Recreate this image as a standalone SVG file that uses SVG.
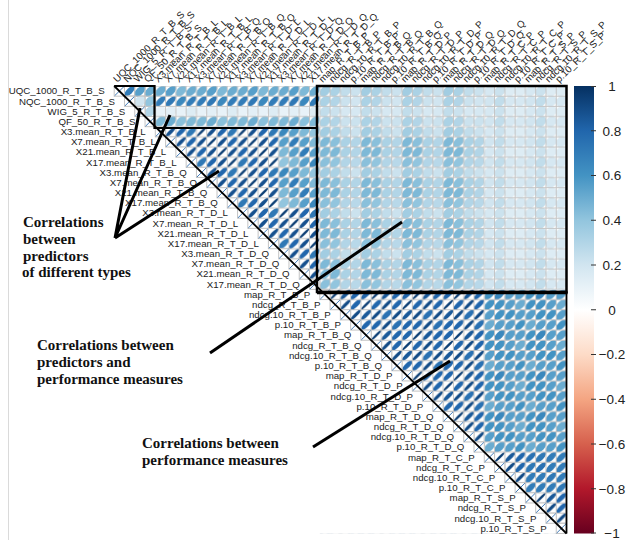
<svg xmlns="http://www.w3.org/2000/svg" xmlns:xlink="http://www.w3.org/1999/xlink" width="629" height="540" viewBox="0 0 629 540">
<style>
.rl{font-family:"Liberation Sans",Arial,sans-serif;font-size:9.7px;fill:#222;text-anchor:end}
.cl{font-family:"Liberation Sans",Arial,sans-serif;font-size:9.7px;fill:#222}
.ann{font-family:"Liberation Serif","Times New Roman",serif;font-size:15px;font-weight:bold;fill:#111}
.cb{font-family:"Liberation Sans",Arial,sans-serif;font-size:13.5px;fill:#222;text-anchor:middle}
.cell{fill:#fff;stroke:#C4C4C4;stroke-width:1}
.blk{fill:none;stroke:#000;stroke-linecap:butt}
</style>
<defs>
<ellipse id="e10" rx="5.65" ry="5.11" fill="#E8F2F8" transform="rotate(-45)"/>
<ellipse id="e12" rx="5.70" ry="5.06" fill="#E3EFF6" transform="rotate(-45)"/>
<ellipse id="e15" rx="5.78" ry="4.97" fill="#DDECF4" transform="rotate(-45)"/>
<ellipse id="e18" rx="5.85" ry="4.88" fill="#D6E8F2" transform="rotate(-45)"/>
<ellipse id="e20" rx="5.90" ry="4.82" fill="#D1E5F0" transform="rotate(-45)"/>
<ellipse id="e22" rx="5.95" ry="4.76" fill="#CBE2EE" transform="rotate(-45)"/>
<ellipse id="e25" rx="6.02" ry="4.67" fill="#C1DDEB" transform="rotate(-45)"/>
<ellipse id="e28" rx="6.10" ry="4.57" fill="#B8D8E9" transform="rotate(-45)"/>
<ellipse id="e30" rx="6.14" ry="4.51" fill="#B2D5E7" transform="rotate(-45)"/>
<ellipse id="e32" rx="6.19" ry="4.44" fill="#ABD2E5" transform="rotate(-45)"/>
<ellipse id="e35" rx="6.26" ry="4.34" fill="#A2CDE2" transform="rotate(-45)"/>
<ellipse id="e38" rx="6.33" ry="4.24" fill="#98C8E0" transform="rotate(-45)"/>
<ellipse id="e40" rx="6.38" ry="4.17" fill="#92C5DE" transform="rotate(-45)"/>
<ellipse id="e42" rx="6.42" ry="4.10" fill="#8AC0DB" transform="rotate(-45)"/>
<ellipse id="e45" rx="6.49" ry="4.00" fill="#7EB9D7" transform="rotate(-45)"/>
<ellipse id="e50" rx="6.60" ry="3.81" fill="#6BACD0" transform="rotate(-45)"/>
<ellipse id="e55" rx="6.71" ry="3.61" fill="#579FCA" transform="rotate(-45)"/>
<ellipse id="e60" rx="6.82" ry="3.41" fill="#4393C3" transform="rotate(-45)"/>
<ellipse id="e65" rx="6.92" ry="3.19" fill="#3B88BD" transform="rotate(-45)"/>
<ellipse id="e70" rx="7.03" ry="2.95" fill="#327CB8" transform="rotate(-45)"/>
<ellipse id="e72" rx="7.07" ry="2.85" fill="#2F78B5" transform="rotate(-45)"/>
<ellipse id="e75" rx="7.13" ry="2.69" fill="#2A71B2" transform="rotate(-45)"/>
<ellipse id="e80" rx="7.23" ry="2.41" fill="#2166AC" transform="rotate(-45)"/>
<ellipse id="e85" rx="7.33" ry="2.09" fill="#1A5999" transform="rotate(-45)"/>
<ellipse id="e88" rx="7.39" ry="1.87" fill="#16508E" transform="rotate(-45)"/>
<ellipse id="e90" rx="7.43" ry="1.70" fill="#134B86" transform="rotate(-45)"/>
<ellipse id="e95" rx="7.52" ry="1.20" fill="#0C3E74" transform="rotate(-45)"/>
<rect id="bg" width="41.12" height="40.68" fill="#fff"/>
<path id="g4" d="M0 0V40.68M10.28 0V40.68M20.56 0V40.68M30.84 0V40.68M41.12 0V40.68M0 0H41.12M0 10.17H41.12M0 20.34H41.12M0 30.51H41.12M0 40.68H41.12" fill="none" stroke="#C4C4C4" stroke-width="1"/>
<g id="dc"><rect class="cell" width="10.28" height="10.17"/><path d="M0.5 9.7L9.8 0.5" stroke="#2B6CB0" stroke-width="0.9"/></g>
<linearGradient id="cbg" x1="0" y1="0" x2="0" y2="1">
<stop offset="0" stop-color="#053061"/><stop offset="0.1" stop-color="#2166AC"/><stop offset="0.2" stop-color="#4393C3"/><stop offset="0.3" stop-color="#92C5DE"/><stop offset="0.4" stop-color="#D1E5F0"/><stop offset="0.5" stop-color="#FFFFFF"/><stop offset="0.6" stop-color="#FDDBC7"/><stop offset="0.7" stop-color="#F4A582"/><stop offset="0.8" stop-color="#D6604D"/><stop offset="0.9" stop-color="#B2182B"/><stop offset="1" stop-color="#67001F"/>
</linearGradient>
<pattern id="pB" patternUnits="userSpaceOnUse" x="114.2" y="86" width="41.12" height="40.68">
<use href="#bg"/>
<use href="#e50" x="5.14" y="5.085"/><use href="#e55" x="15.42" y="5.085"/><use href="#e45" x="25.7" y="5.085"/><use href="#e50" x="35.98" y="5.085"/>
<use href="#e70" x="5.14" y="15.255"/><use href="#e72" x="15.42" y="15.255"/><use href="#e65" x="25.7" y="15.255"/><use href="#e70" x="35.98" y="15.255"/>
<use href="#e10" x="5.14" y="25.425"/><use href="#e12" x="15.42" y="25.425"/><use href="#e10" x="25.7" y="25.425"/><use href="#e15" x="35.98" y="25.425"/>
<use href="#e45" x="5.14" y="35.595"/><use href="#e50" x="15.42" y="35.595"/><use href="#e42" x="25.7" y="35.595"/><use href="#e45" x="35.98" y="35.595"/>
<use href="#g4"/>
</pattern>
<pattern id="pC" patternUnits="userSpaceOnUse" x="114.2" y="86" width="41.12" height="40.68">
<use href="#bg"/>
<use href="#e35" x="5.14" y="5.085"/><use href="#e32" x="15.42" y="5.085"/><use href="#e25" x="25.7" y="5.085"/><use href="#e22" x="35.98" y="5.085"/>
<use href="#e32" x="5.14" y="15.255"/><use href="#e30" x="15.42" y="15.255"/><use href="#e22" x="25.7" y="15.255"/><use href="#e20" x="35.98" y="15.255"/>
<use href="#e25" x="5.14" y="25.425"/><use href="#e22" x="15.42" y="25.425"/><use href="#e18" x="25.7" y="25.425"/><use href="#e18" x="35.98" y="25.425"/>
<use href="#e32" x="5.14" y="35.595"/><use href="#e30" x="15.42" y="35.595"/><use href="#e22" x="25.7" y="35.595"/><use href="#e22" x="35.98" y="35.595"/>
<use href="#g4"/>
</pattern>
<pattern id="pF" patternUnits="userSpaceOnUse" x="114.2" y="86" width="41.12" height="40.68">
<use href="#bg"/>
<use href="#e18" x="5.14" y="5.085"/><use href="#e22" x="15.42" y="5.085"/><use href="#e15" x="25.7" y="5.085"/><use href="#e15" x="35.98" y="5.085"/>
<use href="#e20" x="5.14" y="15.255"/><use href="#e25" x="15.42" y="15.255"/><use href="#e18" x="25.7" y="15.255"/><use href="#e18" x="35.98" y="15.255"/>
<use href="#e18" x="5.14" y="25.425"/><use href="#e22" x="15.42" y="25.425"/><use href="#e15" x="25.7" y="25.425"/><use href="#e15" x="35.98" y="25.425"/>
<use href="#e20" x="5.14" y="35.595"/><use href="#e25" x="15.42" y="35.595"/><use href="#e18" x="25.7" y="35.595"/><use href="#e18" x="35.98" y="35.595"/>
<use href="#g4"/>
</pattern>
<pattern id="pD" patternUnits="userSpaceOnUse" x="114.2" y="86" width="41.12" height="40.68">
<use href="#bg"/>
<use href="#e95" x="5.14" y="5.085"/><use href="#e88" x="15.42" y="5.085"/><use href="#e80" x="25.7" y="5.085"/><use href="#e72" x="35.98" y="5.085"/>
<use href="#e88" x="5.14" y="15.255"/><use href="#e95" x="15.42" y="15.255"/><use href="#e88" x="25.7" y="15.255"/><use href="#e80" x="35.98" y="15.255"/>
<use href="#e80" x="5.14" y="25.425"/><use href="#e88" x="15.42" y="25.425"/><use href="#e95" x="25.7" y="25.425"/><use href="#e88" x="35.98" y="25.425"/>
<use href="#e72" x="5.14" y="35.595"/><use href="#e80" x="15.42" y="35.595"/><use href="#e88" x="25.7" y="35.595"/><use href="#e95" x="35.98" y="35.595"/>
<use href="#g4"/>
</pattern>
<pattern id="pD2" patternUnits="userSpaceOnUse" x="114.2" y="86" width="41.12" height="40.68">
<use href="#bg"/>
<use href="#e65" x="5.14" y="5.085"/><use href="#e55" x="15.42" y="5.085"/><use href="#e45" x="25.7" y="5.085"/><use href="#e40" x="35.98" y="5.085"/>
<use href="#e55" x="5.14" y="15.255"/><use href="#e70" x="15.42" y="15.255"/><use href="#e55" x="25.7" y="15.255"/><use href="#e45" x="35.98" y="15.255"/>
<use href="#e45" x="5.14" y="25.425"/><use href="#e55" x="15.42" y="25.425"/><use href="#e70" x="25.7" y="25.425"/><use href="#e55" x="35.98" y="25.425"/>
<use href="#e40" x="5.14" y="35.595"/><use href="#e45" x="15.42" y="35.595"/><use href="#e55" x="25.7" y="35.595"/><use href="#e65" x="35.98" y="35.595"/>
<use href="#g4"/>
</pattern>
<pattern id="pE" patternUnits="userSpaceOnUse" x="114.2" y="86" width="41.12" height="40.68">
<use href="#bg"/>
<use href="#e35" x="5.14" y="5.085"/><use href="#e32" x="15.42" y="5.085"/><use href="#e25" x="25.7" y="5.085"/><use href="#e22" x="35.98" y="5.085"/>
<use href="#e45" x="5.14" y="15.255"/><use href="#e42" x="15.42" y="15.255"/><use href="#e32" x="25.7" y="15.255"/><use href="#e30" x="35.98" y="15.255"/>
<use href="#e45" x="5.14" y="25.425"/><use href="#e45" x="15.42" y="25.425"/><use href="#e32" x="25.7" y="25.425"/><use href="#e30" x="35.98" y="25.425"/>
<use href="#e42" x="5.14" y="35.595"/><use href="#e40" x="15.42" y="35.595"/><use href="#e30" x="25.7" y="35.595"/><use href="#e28" x="35.98" y="35.595"/>
<use href="#g4"/>
</pattern>
<pattern id="pG" patternUnits="userSpaceOnUse" x="114.2" y="86" width="41.12" height="40.68">
<use href="#bg"/>
<use href="#e80" x="5.14" y="5.085"/><use href="#e95" x="15.42" y="5.085"/><use href="#e85" x="25.7" y="5.085"/><use href="#e80" x="35.98" y="5.085"/>
<use href="#e95" x="5.14" y="15.255"/><use href="#e80" x="15.42" y="15.255"/><use href="#e90" x="25.7" y="15.255"/><use href="#e80" x="35.98" y="15.255"/>
<use href="#e85" x="5.14" y="25.425"/><use href="#e90" x="15.42" y="25.425"/><use href="#e75" x="25.7" y="25.425"/><use href="#e90" x="35.98" y="25.425"/>
<use href="#e80" x="5.14" y="35.595"/><use href="#e80" x="15.42" y="35.595"/><use href="#e90" x="25.7" y="35.595"/><use href="#e75" x="35.98" y="35.595"/>
<use href="#g4"/>
</pattern>
<pattern id="pH" patternUnits="userSpaceOnUse" x="114.2" y="86" width="41.12" height="40.68">
<use href="#bg"/>
<use href="#e60" x="5.14" y="5.085"/><use href="#e65" x="15.42" y="5.085"/><use href="#e55" x="25.7" y="5.085"/><use href="#e55" x="35.98" y="5.085"/>
<use href="#e60" x="5.14" y="15.255"/><use href="#e60" x="15.42" y="15.255"/><use href="#e55" x="25.7" y="15.255"/><use href="#e50" x="35.98" y="15.255"/>
<use href="#e55" x="5.14" y="25.425"/><use href="#e60" x="15.42" y="25.425"/><use href="#e60" x="25.7" y="25.425"/><use href="#e55" x="35.98" y="25.425"/>
<use href="#e50" x="5.14" y="35.595"/><use href="#e55" x="15.42" y="35.595"/><use href="#e55" x="25.7" y="35.595"/><use href="#e60" x="35.98" y="35.595"/>
<use href="#g4"/>
</pattern>
<pattern id="pJ" patternUnits="userSpaceOnUse" x="114.2" y="86" width="41.12" height="40.68">
<use href="#bg"/>
<use href="#e75" x="5.14" y="5.085"/><use href="#e72" x="15.42" y="5.085"/><use href="#e70" x="25.7" y="5.085"/><use href="#e70" x="35.98" y="5.085"/>
<use href="#e72" x="5.14" y="15.255"/><use href="#e75" x="15.42" y="15.255"/><use href="#e70" x="25.7" y="15.255"/><use href="#e70" x="35.98" y="15.255"/>
<use href="#e70" x="5.14" y="25.425"/><use href="#e70" x="15.42" y="25.425"/><use href="#e72" x="25.7" y="25.425"/><use href="#e70" x="35.98" y="25.425"/>
<use href="#e70" x="5.14" y="35.595"/><use href="#e70" x="15.42" y="35.595"/><use href="#e70" x="25.7" y="35.595"/><use href="#e72" x="35.98" y="35.595"/>
<use href="#g4"/>
</pattern>
</defs>
<rect width="629" height="540" fill="#fff"/>
<path d="M8.5 0V540" stroke="#DADADA" stroke-width="1"/>

<g id="matrix-cells">
<rect x="155.32" y="86" width="164.48" height="40.68" fill="url(#pB)"/>
<rect x="319.8" y="86" width="164.48" height="40.68" fill="url(#pC)"/>
<rect x="484.28" y="86" width="82.24" height="203.4" fill="url(#pF)"/>
<rect x="155.32" y="126.68" width="164.48" height="162.72" fill="url(#pD)"/>
<rect x="278.68" y="126.68" width="41.12" height="81.36" fill="url(#pD2)"/>
<rect x="319.8" y="126.68" width="164.48" height="162.72" fill="url(#pE)"/>
<rect x="319.8" y="289.4" width="164.48" height="244.08" fill="url(#pG)"/>
<rect x="484.28" y="289.4" width="82.24" height="162.72" fill="url(#pH)"/>
<rect x="484.28" y="452.12" width="82.24" height="81.36" fill="url(#pG)"/>
<rect x="525.4" y="452.12" width="41.12" height="40.68" fill="url(#pJ)"/>
<g id="s-block">
<rect class="cell" x="124.48" y="86" width="10.28" height="10.17"/>
<rect class="cell" x="134.76" y="86" width="10.28" height="10.17"/>
<rect class="cell" x="145.04" y="86" width="10.28" height="10.17"/>
<rect class="cell" x="134.76" y="96.17" width="10.28" height="10.17"/>
<rect class="cell" x="145.04" y="96.17" width="10.28" height="10.17"/>
<rect class="cell" x="145.04" y="106.34" width="10.28" height="10.17"/>
<use href="#e70" x="129.62" y="91.085"/>
<use href="#e55" x="139.9" y="91.085"/>
<use href="#e50" x="150.18" y="91.085"/>
<use href="#e20" x="139.9" y="101.255"/>
<use href="#e40" x="150.18" y="101.255"/>
<use href="#e30" x="150.18" y="111.425"/>
<path d="M124.48 86V116.51M134.76 86V116.51M145.04 86V116.51M155.32 86V116.51M124.48 86H155.32M124.48 96.17H155.32M134.76 106.34H155.32M145.04 116.51H155.32" fill="none" stroke="#C4C4C4" stroke-width="1"/>
</g>
<polygon points="114.2,86 566.52,533.48 114.2,533.48" fill="#fff"/>
</g>

<g id="diagonal">
<use href="#dc" x="114.2" y="86"/><use href="#dc" x="124.48" y="96.17"/><use href="#dc" x="134.76" y="106.34"/><use href="#dc" x="145.04" y="116.51"/>
<use href="#dc" x="155.32" y="126.68"/><use href="#dc" x="165.6" y="136.85"/><use href="#dc" x="175.88" y="147.02"/><use href="#dc" x="186.16" y="157.19"/>
<use href="#dc" x="196.44" y="167.36"/><use href="#dc" x="206.72" y="177.53"/><use href="#dc" x="217" y="187.7"/><use href="#dc" x="227.28" y="197.87"/>
<use href="#dc" x="237.56" y="208.04"/><use href="#dc" x="247.84" y="218.21"/><use href="#dc" x="258.12" y="228.38"/><use href="#dc" x="268.4" y="238.55"/>
<use href="#dc" x="278.68" y="248.72"/><use href="#dc" x="288.96" y="258.89"/><use href="#dc" x="299.24" y="269.06"/><use href="#dc" x="309.52" y="279.23"/>
<use href="#dc" x="319.8" y="289.4"/><use href="#dc" x="330.08" y="299.57"/><use href="#dc" x="340.36" y="309.74"/><use href="#dc" x="350.64" y="319.91"/>
<use href="#dc" x="360.92" y="330.08"/><use href="#dc" x="371.2" y="340.25"/><use href="#dc" x="381.48" y="350.42"/><use href="#dc" x="391.76" y="360.59"/>
<use href="#dc" x="402.04" y="370.76"/><use href="#dc" x="412.32" y="380.93"/><use href="#dc" x="422.6" y="391.1"/><use href="#dc" x="432.88" y="401.27"/>
<use href="#dc" x="443.16" y="411.44"/><use href="#dc" x="453.44" y="421.61"/><use href="#dc" x="463.72" y="431.78"/><use href="#dc" x="474" y="441.95"/>
<use href="#dc" x="484.28" y="452.12"/><use href="#dc" x="494.56" y="462.29"/><use href="#dc" x="504.84" y="472.46"/><use href="#dc" x="515.12" y="482.63"/>
<use href="#dc" x="525.4" y="492.8"/><use href="#dc" x="535.68" y="502.97"/><use href="#dc" x="545.96" y="513.14"/><use href="#dc" x="556.24" y="523.31"/>
</g>

<g id="row-labels">
<text class="rl" x="104.6" y="94.4">UQC_1000_R_T_B_S</text>
<text class="rl" x="114.88" y="104.57">NQC_1000_R_T_B_S</text>
<text class="rl" x="125.16" y="114.74">WIG_5_R_T_B_S</text>
<text class="rl" x="135.44" y="124.91">QF_50_R_T_B_S</text>
<text class="rl" x="145.72" y="135.08">X3.mean_R_T_B_L</text>
<text class="rl" x="156" y="145.25">X7.mean_R_T_B_L</text>
<text class="rl" x="166.28" y="155.42">X21.mean_R_T_B_L</text>
<text class="rl" x="176.56" y="165.59">X17.mean_R_T_B_L</text>
<text class="rl" x="186.84" y="175.76">X3.mean_R_T_B_Q</text>
<text class="rl" x="197.12" y="185.93">X7.mean_R_T_B_Q</text>
<text class="rl" x="207.4" y="196.1">X21.mean_R_T_B_Q</text>
<text class="rl" x="217.68" y="206.27">X17.mean_R_T_B_Q</text>
<text class="rl" x="227.96" y="216.44">X3.mean_R_T_D_L</text>
<text class="rl" x="238.24" y="226.61">X7.mean_R_T_D_L</text>
<text class="rl" x="248.52" y="236.78">X21.mean_R_T_D_L</text>
<text class="rl" x="258.8" y="246.95">X17.mean_R_T_D_L</text>
<text class="rl" x="269.08" y="257.12">X3.mean_R_T_D_Q</text>
<text class="rl" x="279.36" y="267.29">X7.mean_R_T_D_Q</text>
<text class="rl" x="289.64" y="277.46">X21.mean_R_T_D_Q</text>
<text class="rl" x="299.92" y="287.63">X17.mean_R_T_D_Q</text>
<text class="rl" x="310.2" y="297.8">map_R_T_B_P</text>
<text class="rl" x="320.48" y="307.97">ndcg_R_T_B_P</text>
<text class="rl" x="330.76" y="318.14">ndcg.10_R_T_B_P</text>
<text class="rl" x="341.04" y="328.31">p.10_R_T_B_P</text>
<text class="rl" x="351.32" y="338.48">map_R_T_B_Q</text>
<text class="rl" x="361.6" y="348.65">ndcg_R_T_B_Q</text>
<text class="rl" x="371.88" y="358.82">ndcg.10_R_T_B_Q</text>
<text class="rl" x="382.16" y="368.99">p.10_R_T_B_Q</text>
<text class="rl" x="392.44" y="379.16">map_R_T_D_P</text>
<text class="rl" x="402.72" y="389.33">ndcg_R_T_D_P</text>
<text class="rl" x="413" y="399.5">ndcg.10_R_T_D_P</text>
<text class="rl" x="423.28" y="409.67">p.10_R_T_D_P</text>
<text class="rl" x="433.56" y="419.84">map_R_T_D_Q</text>
<text class="rl" x="443.84" y="430.01">ndcg_R_T_D_Q</text>
<text class="rl" x="454.12" y="440.18">ndcg.10_R_T_D_Q</text>
<text class="rl" x="464.4" y="450.35">p.10_R_T_D_Q</text>
<text class="rl" x="474.68" y="460.52">map_R_T_C_P</text>
<text class="rl" x="484.96" y="470.69">ndcg_R_T_C_P</text>
<text class="rl" x="495.24" y="480.86">ndcg.10_R_T_C_P</text>
<text class="rl" x="505.52" y="491.03">p.10_R_T_C_P</text>
<text class="rl" x="515.8" y="501.2">map_R_T_S_P</text>
<text class="rl" x="526.08" y="511.37">ndcg_R_T_S_P</text>
<text class="rl" x="536.36" y="521.54">ndcg.10_R_T_S_P</text>
<text class="rl" x="546.64" y="531.71">p.10_R_T_S_P</text>
</g>

<g id="col-labels">
<text class="cl" transform="translate(117.2 83) rotate(-45)">UQC_1000_R_T_B_S</text>
<text class="cl" transform="translate(127.48 83) rotate(-45)">NQC_1000_R_T_B_S</text>
<text class="cl" transform="translate(137.76 83) rotate(-45)">WIG_5_R_T_B_S</text>
<text class="cl" transform="translate(148.04 83) rotate(-45)">QF_50_R_T_B_S</text>
<text class="cl" transform="translate(158.32 83) rotate(-45)">X3.mean_R_T_B_L</text>
<text class="cl" transform="translate(168.6 83) rotate(-45)">X7.mean_R_T_B_L</text>
<text class="cl" transform="translate(178.88 83) rotate(-45)">X21.mean_R_T_B_L</text>
<text class="cl" transform="translate(189.16 83) rotate(-45)">X17.mean_R_T_B_L</text>
<text class="cl" transform="translate(199.44 83) rotate(-45)">X3.mean_R_T_B_Q</text>
<text class="cl" transform="translate(209.72 83) rotate(-45)">X7.mean_R_T_B_Q</text>
<text class="cl" transform="translate(220 83) rotate(-45)">X21.mean_R_T_B_Q</text>
<text class="cl" transform="translate(230.28 83) rotate(-45)">X17.mean_R_T_B_Q</text>
<text class="cl" transform="translate(240.56 83) rotate(-45)">X3.mean_R_T_D_L</text>
<text class="cl" transform="translate(250.84 83) rotate(-45)">X7.mean_R_T_D_L</text>
<text class="cl" transform="translate(261.12 83) rotate(-45)">X21.mean_R_T_D_L</text>
<text class="cl" transform="translate(271.4 83) rotate(-45)">X17.mean_R_T_D_L</text>
<text class="cl" transform="translate(281.68 83) rotate(-45)">X3.mean_R_T_D_Q</text>
<text class="cl" transform="translate(291.96 83) rotate(-45)">X7.mean_R_T_D_Q</text>
<text class="cl" transform="translate(302.24 83) rotate(-45)">X21.mean_R_T_D_Q</text>
<text class="cl" transform="translate(312.52 83) rotate(-45)">X17.mean_R_T_D_Q</text>
<text class="cl" transform="translate(322.8 83) rotate(-45)">map_R_T_B_P</text>
<text class="cl" transform="translate(333.08 83) rotate(-45)">ndcg_R_T_B_P</text>
<text class="cl" transform="translate(343.36 83) rotate(-45)">ndcg.10_R_T_B_P</text>
<text class="cl" transform="translate(353.64 83) rotate(-45)">p.10_R_T_B_P</text>
<text class="cl" transform="translate(363.92 83) rotate(-45)">map_R_T_B_Q</text>
<text class="cl" transform="translate(374.2 83) rotate(-45)">ndcg_R_T_B_Q</text>
<text class="cl" transform="translate(384.48 83) rotate(-45)">ndcg.10_R_T_B_Q</text>
<text class="cl" transform="translate(394.76 83) rotate(-45)">p.10_R_T_B_Q</text>
<text class="cl" transform="translate(405.04 83) rotate(-45)">map_R_T_D_P</text>
<text class="cl" transform="translate(415.32 83) rotate(-45)">ndcg_R_T_D_P</text>
<text class="cl" transform="translate(425.6 83) rotate(-45)">ndcg.10_R_T_D_P</text>
<text class="cl" transform="translate(435.88 83) rotate(-45)">p.10_R_T_D_P</text>
<text class="cl" transform="translate(446.16 83) rotate(-45)">map_R_T_D_Q</text>
<text class="cl" transform="translate(456.44 83) rotate(-45)">ndcg_R_T_D_Q</text>
<text class="cl" transform="translate(466.72 83) rotate(-45)">ndcg.10_R_T_D_Q</text>
<text class="cl" transform="translate(477 83) rotate(-45)">p.10_R_T_D_Q</text>
<text class="cl" transform="translate(487.28 83) rotate(-45)">map_R_T_C_P</text>
<text class="cl" transform="translate(497.56 83) rotate(-45)">ndcg_R_T_C_P</text>
<text class="cl" transform="translate(507.84 83) rotate(-45)">ndcg.10_R_T_C_P</text>
<text class="cl" transform="translate(518.12 83) rotate(-45)">p.10_R_T_C_P</text>
<text class="cl" transform="translate(528.4 83) rotate(-45)">map_R_T_S_P</text>
<text class="cl" transform="translate(538.68 83) rotate(-45)">ndcg_R_T_S_P</text>
<text class="cl" transform="translate(548.96 83) rotate(-45)">ndcg.10_R_T_S_P</text>
<text class="cl" transform="translate(559.24 83) rotate(-45)">p.10_R_T_S_P</text>
</g>

<g id="colorbar">
<rect x="574" y="86" width="20" height="447.5" fill="url(#cbg)"/>
<path d="M591 86.5h5M591 130.75h5M591 175.5h5M591 220.25h5M591 265h5M591 309.75h5M591 354.5h5M591 399.25h5M591 444h5M591 488.75h5M591 533h5" stroke="#333" stroke-width="1"/>
<text class="cb" x="612" y="91">1</text>
<text class="cb" x="612" y="135.5">0.8</text>
<text class="cb" x="612" y="180.3">0.6</text>
<text class="cb" x="612" y="225">0.4</text>
<text class="cb" x="612" y="269.8">0.2</text>
<text class="cb" x="612" y="314.5">0</text>
<text class="cb" x="612" y="359.3">−0.2</text>
<text class="cb" x="612" y="404">−0.4</text>
<text class="cb" x="612" y="448.8">−0.6</text>
<text class="cb" x="612" y="493.5">−0.8</text>
<text class="cb" x="612" y="538">−1</text>
</g>

<g id="connectors">
<path class="blk" d="M114.2 86H154.5V128H317" stroke-width="2.2"/>
<rect class="blk" x="317" y="86" width="249.5" height="206" stroke-width="2.5"/>
<path class="blk" d="M317 292.5H567.5" stroke-width="3.5"/>
<path class="blk" d="M566.5 292V533.5" stroke-width="1.8"/>
<path class="blk" d="M114.2 86L566.5 533.5" stroke-width="1.8"/>
<path class="blk" d="M115 238L140 108M115 238L170 115M115 238L219 171" stroke-width="3"/>
<path class="blk" d="M210 353L402 222" stroke-width="3"/>
<path class="blk" d="M313 447L450 361" stroke-width="3"/>
</g>

<g id="annotations">
<g id="ann-predictor-types">
<text class="ann" x="23" y="226.5">Correlations</text>
<text class="ann" x="23" y="243.5">between</text>
<text class="ann" x="23" y="260.5">predictors</text>
<text class="ann" x="22" y="277">of different types</text>
</g>
<g id="ann-predictors-performance">
<text class="ann" x="37" y="350">Correlations between</text>
<text class="ann" x="37" y="367">predictors and</text>
<text class="ann" x="37" y="384">performance measures</text>
</g>
<g id="ann-performance">
<text class="ann" x="142" y="448">Correlations between</text>
<text class="ann" x="142" y="465">performance measures</text>
</g>
</g>
</svg>
